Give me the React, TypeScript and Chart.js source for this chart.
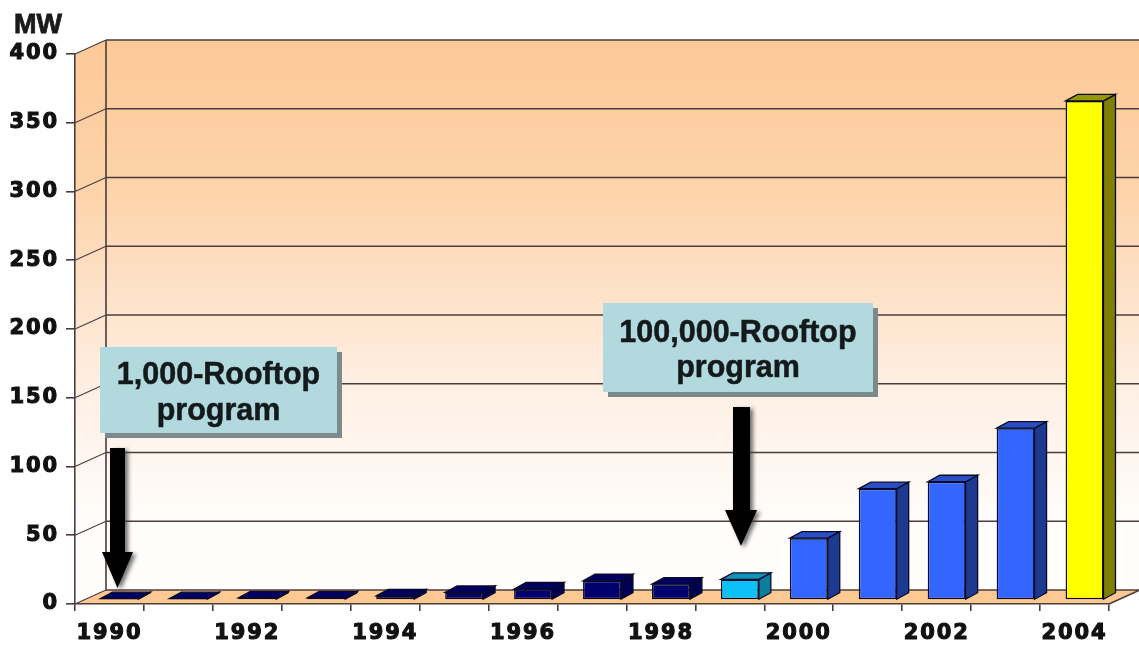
import React, { useEffect, useRef } from "react";
import { Chart, registerables } from "chart.js";

Chart.register(...registerables);

const years = ["1990","1991","1992","1993","1994","1995","1996","1997","1998","1999","2000","2001","2002","2003","2004"];
const megawatts = [1, 1, 1.5, 1.5, 3, 5.5, 8, 14, 11.5, 15, 45, 81, 86, 125, 363];
const frontColors = ["#00006e","#00006e","#00006e","#00006e","#00006e","#00006e","#00006e","#00006e","#00006e","#0cc0f8","#3366ff","#3366ff","#3366ff","#3366ff","#ffff00"];
const sideColors = ["#000050","#000050","#000050","#000050","#000050","#000050","#000050","#000050","#000050","#0b7d9d","#1c3a90","#1c3a90","#1c3a90","#1c3a90","#808000"];
const topColors = ["#000060","#000060","#000060","#000060","#000060","#000060","#000060","#000060","#000060","#1094ba","#2a4fc4","#2a4fc4","#2a4fc4","#2a4fc4","#969600"];
const yTicks = { min: 0, max: 400, step: 50 };
const unitLabel = "MW";
const callouts = [
  { lines: ["1,000-Rooftop", "program"], box: [100, 347, 237, 86], base: [384, 420], shaft: [110, 125, 448, 552], head: [102, 133, 588] },
  { lines: ["100,000-Rooftop", "program"], box: [603, 303, 270, 89], base: [342, 377], shaft: [733, 750, 407, 510], head: [725, 757, 546] },
];

const DEPTH_X = 31;
const DEPTH_Y = 14;
const BAR_SHIFT_X = 10;
const BAR_SHIFT_Y = 4;
const BAR_DEPTH_X = 12;
const BAR_DEPTH_Y = 6.5;
const LINE = "#4a3d3d";
const EDGE = "#0a0a28";

const poly = (ctx: CanvasRenderingContext2D, pts: number[][], fill?: string, stroke?: string) => {
  ctx.beginPath();
  pts.forEach((p, i) => (i ? ctx.lineTo(p[0], p[1]) : ctx.moveTo(p[0], p[1])));
  ctx.closePath();
  if (fill) { ctx.fillStyle = fill; ctx.fill(); }
  if (stroke) { ctx.strokeStyle = stroke; ctx.lineWidth = 1.3; ctx.stroke(); }
};

const scenery = {
  id: "scenery",
  beforeDraw(chart: any) {
    const { ctx, chartArea: a, scales } = chart;
    const y = scales.y;
    ctx.save();
    const grad = ctx.createLinearGradient(0, a.top - DEPTH_Y, 0, a.bottom - 70);
    grad.addColorStop(0, "#fdc997");
    grad.addColorStop(0.3, "#fdd3aa");
    grad.addColorStop(0.7, "#feefe3");
    grad.addColorStop(1, "#fffefd");
    const bx = a.left + DEPTH_X;
    const bb = a.bottom - DEPTH_Y;
    const bt = a.top - DEPTH_Y;
    poly(ctx, [[a.left, a.top], [bx, bt], [bx, bb], [a.left, a.bottom]], grad);
    ctx.fillStyle = grad;
    ctx.fillRect(bx, bt, a.right + DEPTH_X - bx, bb - bt);
    poly(ctx, [[a.left, a.bottom], [bx, bb], [a.right + DEPTH_X, bb], [a.right, a.bottom]], "#fec892");
    ctx.strokeStyle = LINE;
    ctx.lineWidth = 1.6;
    ctx.beginPath();
    ctx.moveTo(bx, bt);
    ctx.lineTo(bx, bb);
    ctx.moveTo(a.right, a.bottom);
    ctx.lineTo(a.right + DEPTH_X, bb);
    ctx.stroke();
    y.ticks.forEach((t: any) => {
      const py = y.getPixelForValue(t.value);
      ctx.lineWidth = 1.1;
      ctx.beginPath();
      ctx.moveTo(a.left, py);
      ctx.lineTo(bx, py - DEPTH_Y);
      ctx.stroke();
      ctx.lineWidth = 1.6;
      ctx.beginPath();
      ctx.moveTo(bx, py - DEPTH_Y);
      ctx.lineTo(a.right + DEPTH_X, py - DEPTH_Y);
      ctx.stroke();
    });
    ctx.restore();
    ctx.letterSpacing = "1.9px";
  },
  beforeDatasetsDraw(chart: any) {
    const { ctx } = chart;
    ctx.letterSpacing = "0px";
    ctx.save();
    ctx.translate(BAR_SHIFT_X, -BAR_SHIFT_Y);
    chart.getDatasetMeta(0).data.forEach((el: any, i: number) => {
      const l = el.x - el.width / 2;
      const r = el.x + el.width / 2;
      const t = el.y;
      const b = el.base;
      poly(ctx, [[r, t], [r + BAR_DEPTH_X, t - BAR_DEPTH_Y], [r + BAR_DEPTH_X, b - BAR_DEPTH_Y], [r, b]], sideColors[i], EDGE);
      poly(ctx, [[l, t], [l + BAR_DEPTH_X, t - BAR_DEPTH_Y], [r + BAR_DEPTH_X, t - BAR_DEPTH_Y], [r, t]], topColors[i], EDGE);
    });
  },
  afterDatasetsDraw(chart: any) {
    chart.ctx.restore();
  },
  afterDraw(chart: any) {
    const { ctx } = chart;
    ctx.save();
    ctx.letterSpacing = "0px";
    ctx.fillStyle = "#1a1a1a";
    ctx.strokeStyle = "#1a1a1a";
    ctx.lineWidth = 0.8;
    ctx.font = "bold 27px 'Liberation Sans'";
    ctx.textAlign = "left";
    ctx.textBaseline = "alphabetic";
    ctx.fillText(unitLabel, 14, 33);
    ctx.strokeText(unitLabel, 14, 33);
    callouts.forEach((c) => {
      const [x, y, w, h] = c.box;
      ctx.fillStyle = "#7d8a8c";
      ctx.fillRect(x + 5, y + 5, w, h);
      ctx.fillStyle = "#b2d9de";
      ctx.fillRect(x, y, w, h);
      ctx.fillStyle = "#141a1c";
      ctx.strokeStyle = "#141a1c";
      ctx.lineWidth = 0.5;
      ctx.font = "bold 30.5px 'Liberation Sans'";
      ctx.textAlign = "center";
      c.lines.forEach((line, i) => {
        ctx.fillText(line, x + w / 2, c.base[i]);
        ctx.strokeText(line, x + w / 2, c.base[i]);
      });
      const [sl, sr, st, sb] = c.shaft;
      const [hl, hr, tip] = c.head;
      ctx.save();
      ctx.shadowColor = "rgba(60,60,60,0.75)";
      ctx.shadowBlur = 4;
      ctx.shadowOffsetX = 3;
      ctx.shadowOffsetY = 2;
      poly(ctx, [[sl, st], [sr, st], [sr, sb], [hr, sb], [(hl + hr) / 2, tip], [hl, sb], [sl, sb]], "#000000");
      ctx.restore();
    });
    ctx.restore();
  },
};

export default function App() {
  const ref = useRef<HTMLCanvasElement>(null);
  useEffect(() => {
    const font = { family: "'DejaVu Sans'", weight: "bold" as const, size: 21 };
    const chart = new Chart(ref.current!, {
      type: "bar",
      data: {
        labels: years,
        datasets: [{
          data: megawatts,
          backgroundColor: frontColors,
          borderColor: EDGE,
          borderWidth: 1.5,
          borderSkipped: false,
          barPercentage: 1,
          categoryPercentage: 0.55,
        }],
      },
      plugins: [scenery],
      options: {
        responsive: false,
        animation: false,
        layout: { padding: { top: 54, right: 30, left: 0, bottom: 0 } },
        plugins: { legend: { display: false }, tooltip: { enabled: false }, title: { display: false } },
        scales: {
          x: {
            afterFit: (s: any) => { s.height = 42; },
            border: { color: LINE, width: 1.6 },
            grid: { drawOnChartArea: false, color: LINE, tickLength: 7, lineWidth: 1.6 },
            ticks: {
              autoSkip: false,
              maxRotation: 0,
              padding: 10,
              color: "#111111",
              textStrokeColor: "#111111",
              textStrokeWidth: 1.1,
              font,
              callback: (_v: any, i: number) => (i % 2 === 0 ? years[i] : ""),
            },
          },
          y: {
            min: yTicks.min,
            max: yTicks.max,
            afterFit: (s: any) => { s.width = 75; },
            border: { color: LINE, width: 1.6 },
            grid: { drawOnChartArea: false, color: LINE, tickLength: 9, lineWidth: 1.6 },
            ticks: { stepSize: yTicks.step, padding: 7, color: "#111111", textStrokeColor: "#111111", textStrokeWidth: 1.1, font },
          },
        },
      },
    });
    return () => chart.destroy();
  }, []);
  return (
    <div style={{ position: "fixed", left: 0, top: 0, width: 1139, height: 646, background: "#fff" }}>
      <canvas ref={ref} width={1139} height={646} style={{ display: "block", width: 1139, height: 646 }} />
    </div>
  );
}
